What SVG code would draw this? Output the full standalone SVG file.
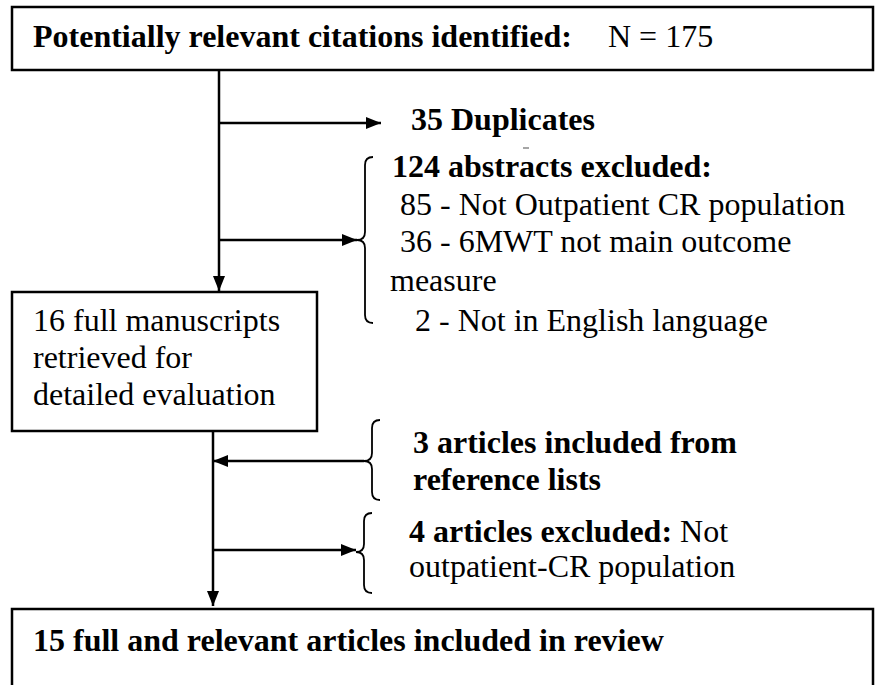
<svg xmlns="http://www.w3.org/2000/svg" width="880" height="685" viewBox="0 0 880 685">
<style>
.box{fill:#fff;stroke:#000;stroke-width:2.5}
.t{font-family:"Liberation Serif","Times New Roman",serif;font-size:32px;fill:#000}
.b{font-weight:bold}
.ln{stroke:#000;stroke-width:2.5;fill:none}
.br{stroke:#000;stroke-width:1.8;fill:none}
</style>
<defs>
<marker id="ah" viewBox="0 0 15 12" refX="15" refY="6" markerWidth="15" markerHeight="12" markerUnits="userSpaceOnUse" orient="auto">
<path d="M0,0 L15,6 L0,12 Z" fill="#000"/>
</marker>
</defs>
<rect width="880" height="685" fill="#fff"/>
<g id="n1">
<rect class="box" x="12" y="7" width="861" height="63"/>
<text class="t" x="33" y="47"><tspan class="b">Potentially relevant citations identified:</tspan></text>
<text class="t" x="608" y="47">N = 175</text>
</g>
<g id="n2">
<text class="t b" x="411" y="130">35 Duplicates</text>
<line x1="523" y1="148" x2="529" y2="148" stroke="#888" stroke-width="1.5"/>
</g>
<g id="n3">
<path class="br" d="M373,157 Q365,157 365,165 L365,232 Q365,240 357,240 Q365,240 365,248 L365,315 Q365,323 373,323"/>
<text class="t b" x="392" y="177">124 abstracts excluded:</text>
<text class="t" x="400" y="215">85 - Not Outpatient CR population</text>
<text class="t" x="400" y="252">36 - 6MWT not main outcome</text>
<text class="t" x="390" y="291">measure</text>
<text class="t" x="415" y="331">2 - Not in English language</text>
</g>
<g id="n4">
<rect class="box" x="12" y="292" width="305" height="139"/>
<text class="t" x="33" y="331">16 full manuscripts</text>
<text class="t" x="33" y="368">retrieved for</text>
<text class="t" x="33" y="405">detailed evaluation</text>
</g>
<g id="n5">
<path class="br" d="M380,420 Q372,420 372,428 L372,453 Q372,461 364,461 Q372,461 372,469 L372,492 Q372,500 380,500"/>
<text class="t b" x="413" y="453">3 articles included from</text>
<text class="t b" x="413" y="490">reference lists</text>
</g>
<g id="n6">
<path class="br" d="M372,513 Q364,513 364,521 L364,544 Q364,552 356,552 Q364,552 364,560 L364,585 Q364,593 372,593"/>
<text class="t" x="409" y="542"><tspan class="b">4 articles excluded:</tspan>  Not</text>
<text class="t" x="409" y="577">outpatient-CR population</text>
</g>
<g id="n7">
<rect class="box" x="12" y="609" width="861" height="90"/>
<text class="t b" x="33" y="651">15 full and relevant articles included in review</text>
</g>
<g id="connectors">
<line class="ln" x1="219" y1="70" x2="219" y2="291" marker-end="url(#ah)"/>
<line class="ln" x1="219" y1="123" x2="381" y2="123" marker-end="url(#ah)"/>
<line class="ln" x1="219" y1="240" x2="357" y2="240" marker-end="url(#ah)"/>
<line class="ln" x1="213" y1="431" x2="213" y2="606" marker-end="url(#ah)"/>
<line class="ln" x1="364" y1="461" x2="213" y2="461" marker-end="url(#ah)"/>
<line class="ln" x1="213" y1="550" x2="356" y2="550" marker-end="url(#ah)"/>
</g>
</svg>
